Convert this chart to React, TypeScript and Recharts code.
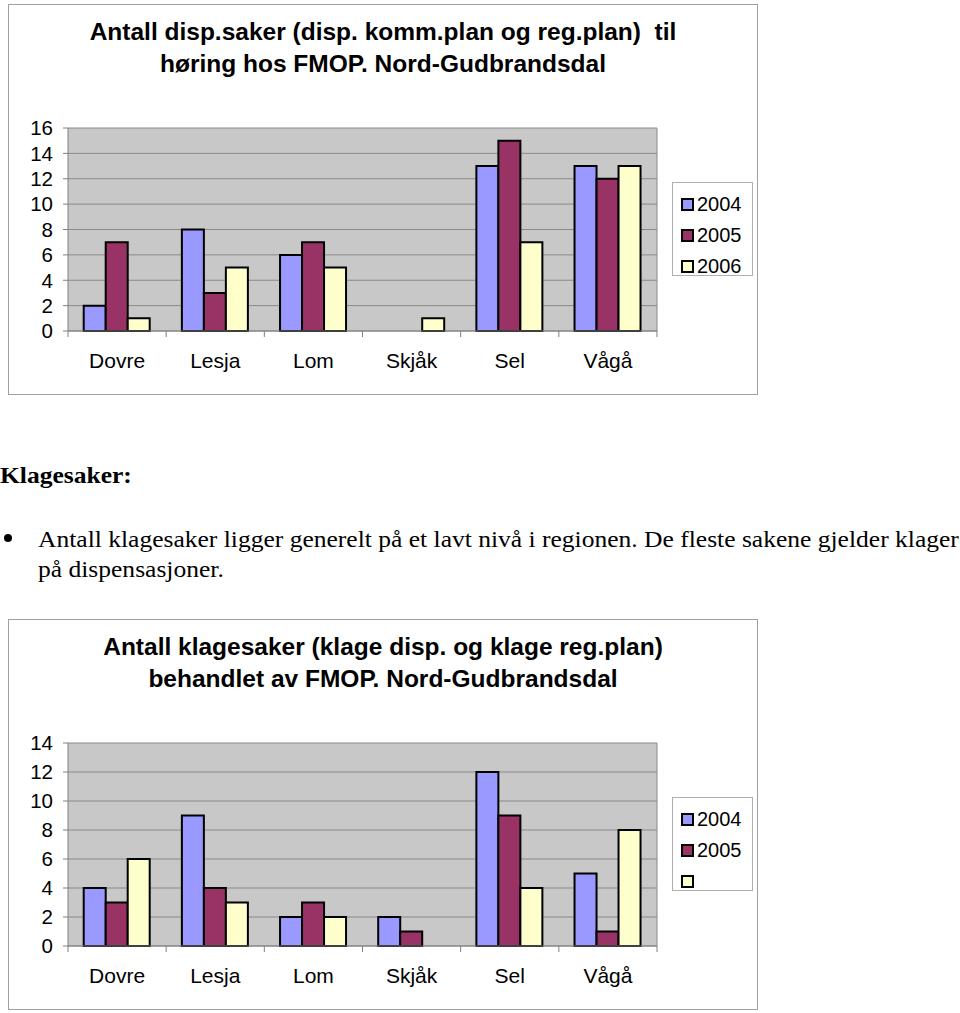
import { Bar, BarChart, CartesianGrid, XAxis, YAxis } from "recharts";

const CATEGORIES = ["Dovre", "Lesja", "Lom", "Skjåk", "Sel", "Vågå"];

// disp.saker til høring
const DISP_2004 = [2, 8, 6, null, 13, 13];
const DISP_2005 = [7, 3, 7, null, 15, 12];
const DISP_2006 = [1, 5, 5, 1, 7, 13];
const DISP_TICKS = [0, 2, 4, 6, 8, 10, 12, 14, 16];
const DISP_LEGEND = ["2004", "2005", "2006"];

// klagesaker behandlet
const KLAGE_2004 = [4, 9, 2, 2, 12, 5];
const KLAGE_2005 = [3, 4, 3, 1, 9, 1];
const KLAGE_2006 = [6, 3, 2, null, 4, 8];
const KLAGE_TICKS = [0, 2, 4, 6, 8, 10, 12, 14];
const KLAGE_LEGEND = ["2004", "2005", ""];

const COLORS = ["#9999ff", "#993366", "#ffffcc"];
const KEYS = ["y2004", "y2005", "y2006"];

const FONT = "'Liberation Sans', Arial, sans-serif";
const SERIF = "'Liberation Serif', 'Times New Roman', serif";

const BOX_W = 750;
const BOX_H = 391;
const MARGIN = { top: 123, right: 100, bottom: 23, left: 0 };
const Y_AXIS_W = 59;
const PLOT_W = BOX_W - 2 - MARGIN.right - Y_AXIS_W;
const BAND = PLOT_W / CATEGORIES.length;

function buildRows(a: (number | null)[], b: (number | null)[], c: (number | null)[]) {
  return CATEGORIES.map((name, i) => ({ name, y2004: a[i], y2005: b[i], y2006: c[i] }));
}

function CategoryTick(props: any) {
  const { x, y, payload, index } = props;
  const last = index === CATEGORIES.length - 1;
  return (
    <g>
      <line x1={x - BAND / 2} x2={x - BAND / 2} y1={y} y2={y + 6} stroke="#808080" />
      {last && <line x1={x + BAND / 2} x2={x + BAND / 2} y1={y} y2={y + 6} stroke="#808080" />}
      <text x={x} y={y + 37} textAnchor="middle" fontSize={21} fontFamily={FONT} fill="#000">
        {payload.value}
      </text>
    </g>
  );
}

function LegendBox({ labels }: { labels: string[] }) {
  return (
    <div
      style={{
        position: "absolute",
        left: 663,
        top: 177,
        width: 79,
        height: 92,
        border: "1px solid #b0b0b0",
        background: "#fff",
      }}
    >
      {labels.map((label, i) => (
        <div
          key={i}
          style={{ position: "absolute", left: 8, top: 7 + i * 31, height: 28, display: "flex", alignItems: "center", gap: 3 }}
        >
          <span
            style={{
              width: 9,
              height: 9,
              background: COLORS[i],
              border: "2px solid #000",
              display: "inline-block",
            }}
          />
          <span style={{ fontFamily: FONT, fontSize: 20, color: "#000" }}>{label}</span>
        </div>
      ))}
    </div>
  );
}

function ChartBox({
  top,
  title,
  rows,
  ticks,
  legend,
}: {
  top: number;
  title: string[];
  rows: ReturnType<typeof buildRows>;
  ticks: number[];
  legend: string[];
}) {
  return (
    <div
      style={{
        position: "absolute",
        left: 8,
        top,
        width: BOX_W - 2,
        height: BOX_H - 2,
        border: "1px solid #a0a0a0",
        background: "#fff",
      }}
    >
      <div
        style={{
          position: "absolute",
          left: 0,
          top: 11,
          width: BOX_W - 2,
          textAlign: "center",
          fontFamily: FONT,
          fontWeight: "bold",
          fontSize: 24.5,
          lineHeight: "32px",
          whiteSpace: "pre",
        }}
      >
        {title.map((t, i) => (
          <div key={i}>{t}</div>
        ))}
      </div>
      <BarChart
        width={BOX_W - 2}
        height={BOX_H - 2}
        data={rows}
        margin={MARGIN}
        barGap={0}
        barCategoryGap="16%"
      >
        <CartesianGrid
          fill="#c8c8c8"
          stroke="#8a8a8a"
          verticalCoordinatesGenerator={({ offset }: any) => [offset.left + offset.width]}
        />
        <XAxis
          dataKey="name"
          height={40}
          axisLine={{ stroke: "#808080" }}
          tickLine={false}
          tickSize={0}
          tickMargin={0}
          tick={<CategoryTick />}
          interval={0}
        />
        <YAxis
          width={Y_AXIS_W}
          domain={[0, ticks[ticks.length - 1]]}
          ticks={ticks}
          interval={0}
          axisLine={{ stroke: "#808080" }}
          tickLine={{ stroke: "#808080" }}
          tickSize={5}
          tickMargin={10}
          tick={{ fontSize: 20.5, fontFamily: FONT, fill: "#000" }}
        />
        {KEYS.map((k, i) => (
          <Bar key={k} dataKey={k} fill={COLORS[i]} stroke="#000" strokeWidth={2} isAnimationActive={false} />
        ))}
      </BarChart>
      <LegendBox labels={legend} />
    </div>
  );
}

const textStyle = {
  position: "absolute" as const,
  fontFamily: SERIF,
  fontSize: 23,
  whiteSpace: "nowrap" as const,
  transform: "scaleX(1.11)",
  transformOrigin: "left top",
};

export default function App() {
  const dispRows = buildRows(DISP_2004, DISP_2005, DISP_2006);
  const klageRows = buildRows(KLAGE_2004, KLAGE_2005, KLAGE_2006);
  return (
    <div style={{ position: "absolute", left: 0, top: 0, width: 960, height: 1013, background: "#fff" }}>
      <ChartBox
        top={4}
        title={["Antall disp.saker (disp. komm.plan og reg.plan)  til", "høring hos FMOP. Nord-Gudbrandsdal"]}
        rows={dispRows}
        ticks={DISP_TICKS}
        legend={DISP_LEGEND}
      />
      <div style={{ ...textStyle, left: 0, top: 463, fontWeight: "bold" }}>Klagesaker:</div>
      <div
        style={{
          position: "absolute",
          left: 4,
          top: 534,
          width: 8,
          height: 8,
          borderRadius: "50%",
          background: "#000",
        }}
      />
      <div style={{ ...textStyle, left: 38, top: 525, lineHeight: "30px" }}>
        Antall klagesaker ligger generelt på et lavt nivå i regionen. De fleste sakene gjelder klager
        <br />
        på dispensasjoner.
      </div>
      <ChartBox
        top={619}
        title={["Antall klagesaker (klage disp. og klage reg.plan)", "behandlet av FMOP. Nord-Gudbrandsdal"]}
        rows={klageRows}
        ticks={KLAGE_TICKS}
        legend={KLAGE_LEGEND}
      />
    </div>
  );
}
